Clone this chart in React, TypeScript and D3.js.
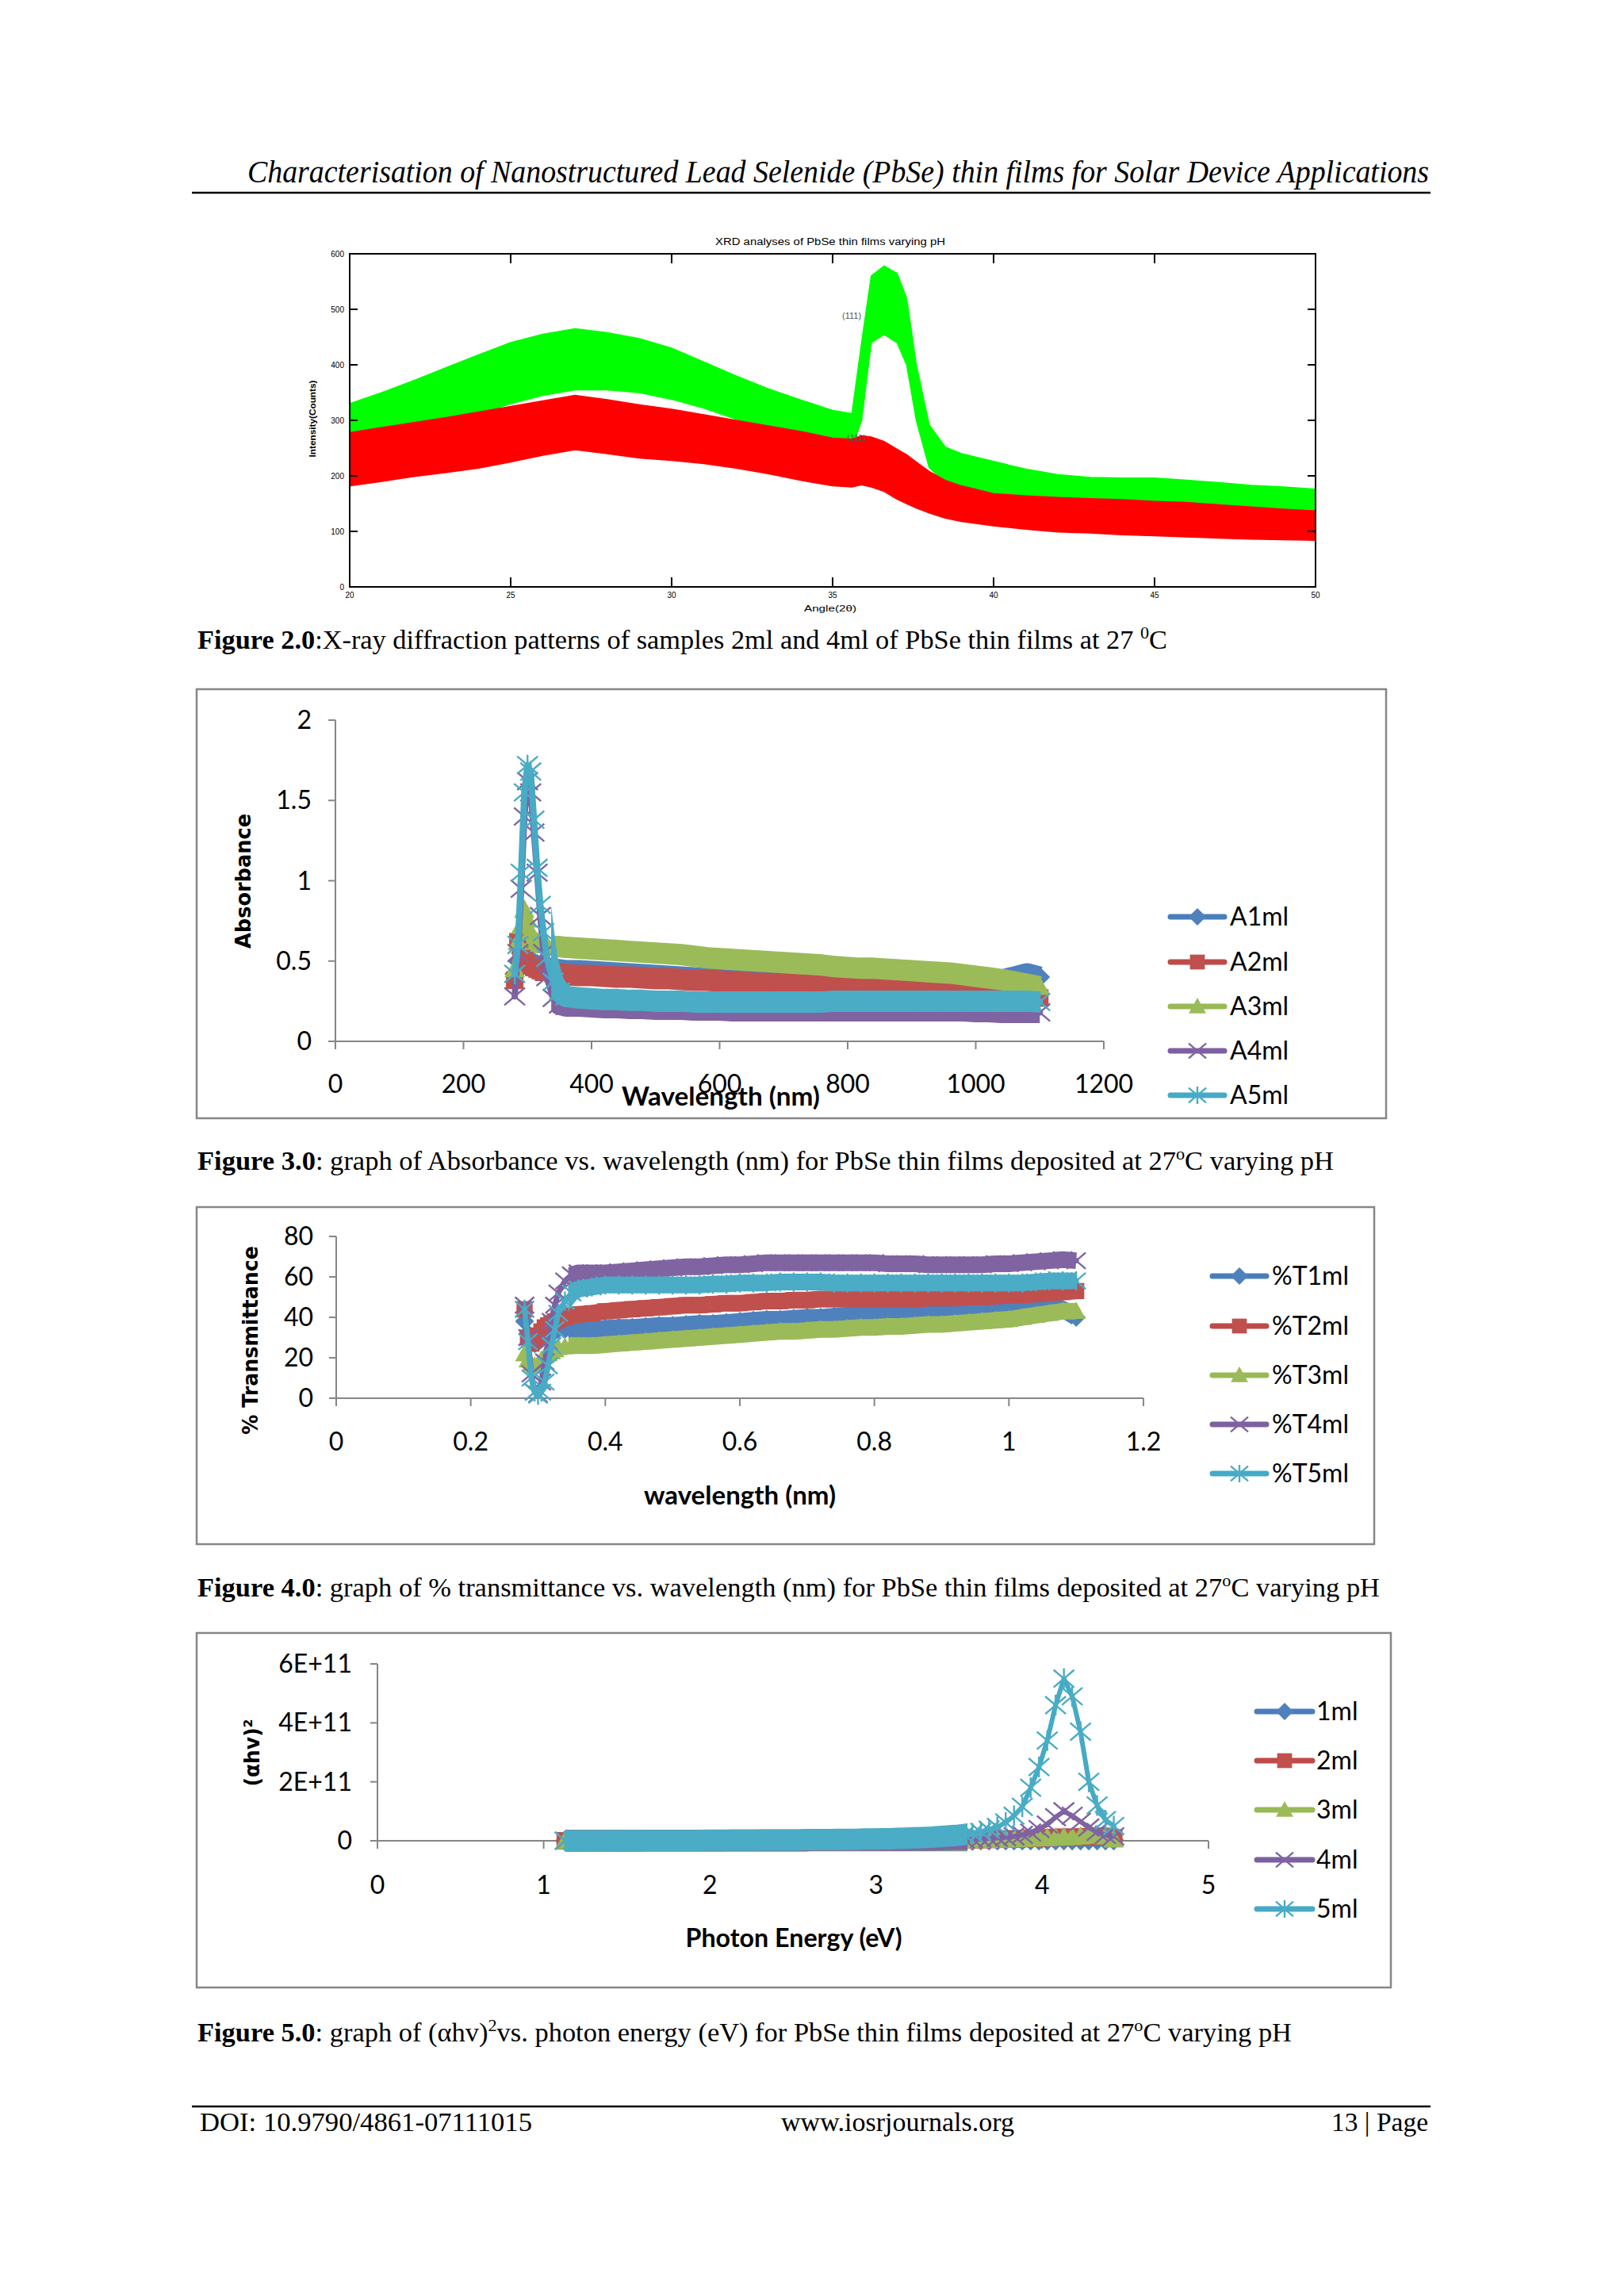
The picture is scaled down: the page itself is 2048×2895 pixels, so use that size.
import * as d3 from "d3";

const PAGE_W = 2048;
const PAGE_H = 2895;

// ---------- Figure 2.0 : XRD (upper / lower edge of the noisy traces) ----------
const xrdAngles = [
  20, 21, 22, 23, 24, 25, 26, 27, 28, 29, 30, 31, 32, 33, 34, 35,
  35.6, 35.9, 36.2, 36.6, 37, 37.3, 37.6, 38, 38.5, 39,
  40, 41, 42, 43, 44, 45, 46, 47, 48, 49, 50,
];
const xrd4mlTop = [
  330, 350, 372, 395, 418, 440, 455, 465, 458, 447, 430, 405, 380, 357, 337, 318,
  312, 440, 560, 578, 565, 520, 400, 292, 252, 240,
  226, 212, 202, 197, 196, 196, 192, 188, 183, 180, 176,
];
const xrd4mlBottom = [
  255, 268, 282, 297, 312, 330, 345, 355, 355, 350, 338, 322, 302, 285, 267, 252,
  250, 300, 440, 455, 440, 400, 300, 215, 188, 176,
  162, 152, 146, 142, 141, 140, 136, 132, 128, 125, 122,
];
const xrd2mlTop = [
  278, 287, 296, 305, 315, 325, 335, 345, 337, 328, 320, 310, 300, 290, 280, 268,
  266, 272, 270, 262, 248, 238, 225, 208, 192, 182,
  168, 164, 161, 159, 157, 154, 152, 148, 144, 140, 137,
];
const xrd2mlBottom = [
  182, 190, 199, 206, 214, 225, 237, 247, 240, 232, 228, 222, 214, 204, 192, 182,
  180, 184, 180, 172, 158, 150, 142, 133, 124, 118,
  110, 104, 99, 97, 94, 92, 90, 88, 86, 85, 84,
];
const xrdYTicks = [0, 100, 200, 300, 400, 500, 600];
const xrdXTicks = [20, 25, 30, 35, 40, 45, 50];

// ---------- Figure 3.0 : absorbance ----------
const wavelengths = [
  280, 285, 290, 295, 300, 305, 310, 315, 320, 325, 330, 340, 350, 360,
  380, 400, 420, 440, 460, 480, 500, 520, 540, 560,
  580, 600, 620, 640, 660, 680, 700, 720, 740, 760,
  780, 800, 820, 840, 860, 880, 900, 920, 940, 960,
  980, 1000, 1020, 1040, 1060, 1080, 1100,
];
const absA1 = [
  0.42, 0.5, 0.55, 0.55, 0.53, 0.51, 0.49, 0.48, 0.47, 0.46, 0.46, 0.45, 0.445, 0.44,
  0.44, 0.435, 0.43, 0.425, 0.42, 0.415, 0.41, 0.405, 0.4, 0.395,
  0.39, 0.385, 0.38, 0.375, 0.37, 0.37, 0.365, 0.365, 0.36, 0.36,
  0.36, 0.36, 0.36, 0.36, 0.36, 0.36, 0.36, 0.36, 0.36, 0.36,
  0.36, 0.36, 0.37, 0.38, 0.4, 0.42, 0.4,
];
const absA2 = [
  0.38, 0.62, 0.55, 0.5, 0.48, 0.47, 0.46, 0.45, 0.44, 0.43, 0.43, 0.42, 0.42, 0.415,
  0.41, 0.41, 0.405, 0.4, 0.4, 0.395, 0.39, 0.39, 0.385, 0.38,
  0.38, 0.375, 0.37, 0.365, 0.36, 0.36, 0.355, 0.355, 0.35, 0.35,
  0.35, 0.345, 0.34, 0.34, 0.335, 0.33, 0.33, 0.325, 0.32, 0.32,
  0.315, 0.315, 0.31, 0.3, 0.29, 0.28, 0.27,
];
const absA3 = [
  0.45, 0.62, 0.72, 0.82, 0.76, 0.68, 0.64, 0.62, 0.61, 0.6, 0.6, 0.59, 0.59, 0.585,
  0.58, 0.575, 0.57, 0.565, 0.56, 0.555, 0.55, 0.545, 0.54, 0.53,
  0.52, 0.515, 0.51, 0.505, 0.5, 0.495, 0.49, 0.485, 0.48, 0.475,
  0.465, 0.46, 0.455, 0.455, 0.45, 0.445, 0.44, 0.435, 0.43, 0.425,
  0.415, 0.405, 0.395, 0.385, 0.37, 0.355, 0.34,
];
const absA4 = [
  0.28, 0.55, 0.95, 1.4, 1.62, 1.55, 1.3, 1.05, 0.78, 0.55, 0.4, 0.27, 0.23, 0.22,
  0.22, 0.215, 0.21, 0.21, 0.205, 0.205, 0.2, 0.2, 0.2, 0.195,
  0.195, 0.195, 0.19, 0.19, 0.19, 0.19, 0.19, 0.19, 0.19, 0.19,
  0.19, 0.19, 0.19, 0.19, 0.19, 0.19, 0.19, 0.19, 0.19, 0.19,
  0.19, 0.185, 0.185, 0.18, 0.18, 0.18, 0.18,
];
const absA5 = [
  0.42, 0.6, 1.05, 1.55, 1.72, 1.68, 1.38, 1.08, 0.85, 0.68, 0.52, 0.37, 0.31, 0.28,
  0.27, 0.265, 0.26, 0.26, 0.255, 0.255, 0.25, 0.25, 0.25, 0.245,
  0.245, 0.245, 0.245, 0.245, 0.245, 0.245, 0.245, 0.245, 0.245, 0.245,
  0.25, 0.25, 0.25, 0.25, 0.25, 0.25, 0.25, 0.25, 0.25, 0.25,
  0.25, 0.25, 0.25, 0.25, 0.25, 0.25, 0.245,
];
const absNames = ["A1ml", "A2ml", "A3ml", "A4ml", "A5ml"];
const absXTicks = [0, 200, 400, 600, 800, 1000, 1200];
const absYTicks = [0, 0.5, 1, 1.5, 2];

// ---------- Figure 4.0 : transmittance ----------
const transWavelengths = [
  0.28, 0.285, 0.29, 0.295, 0.3, 0.305, 0.31, 0.315, 0.32, 0.325, 0.33, 0.34, 0.35, 0.36,
  0.38, 0.4, 0.42, 0.44, 0.46, 0.48, 0.5, 0.52, 0.54, 0.56,
  0.58, 0.6, 0.62, 0.64, 0.66, 0.68, 0.7, 0.72, 0.74, 0.76,
  0.78, 0.8, 0.82, 0.84, 0.86, 0.88, 0.9, 0.92, 0.94, 0.96,
  0.98, 1.0, 1.02, 1.04, 1.06, 1.08, 1.1,
];
const transT1 = [
  38, 32, 28, 27, 28, 30, 31, 32, 33, 33, 34, 34, 34, 34,
  34, 34.5, 35, 35, 35.5, 36, 36, 36.5, 37, 37,
  37.5, 38, 38.5, 39, 39, 39.5, 40, 40, 40.5, 41,
  41, 41.5, 41.5, 42, 42, 42.5, 43, 43, 43.5, 44,
  44.5, 45, 45.5, 46, 46, 44, 40,
];
const transT2 = [
  44, 30, 27, 29, 31, 33, 35, 36, 37, 38, 39, 40, 41, 41.5,
  42, 43, 43.5, 44, 44.5, 45, 45.5, 46, 46, 46.5,
  47, 47, 47.5, 48, 48, 48.5, 48.5, 49, 49, 49,
  49, 49, 49, 49, 49, 49.5, 49.5, 49.5, 50, 50,
  50.5, 51, 51, 51.5, 52, 52.5, 53,
];
const transT3 = [
  22, 19, 17, 16, 17, 19, 21, 22, 23, 24, 25, 25.5, 26, 26,
  26, 26.5, 27, 27.5, 28, 28.5, 29, 29.5, 30, 30.5,
  31, 31.5, 32, 32.5, 33, 33, 33.5, 34, 34, 34.5,
  35, 35, 35.5, 35.5, 36, 36.5, 36.5, 37, 37.5, 38,
  38.5, 39, 40, 41, 42, 43, 43,
];
const transT4 = [
  46, 30, 12, 3, 2, 8, 18, 28, 38, 46, 52, 58, 61, 62,
  62, 62, 62.5, 63, 63.5, 64, 64.5, 65, 65, 65.5,
  66, 66, 66.5, 67, 67, 67, 67, 67, 67, 67,
  67, 67, 66.5, 66.5, 66.5, 66, 66, 66, 66, 66,
  66.5, 66.5, 67, 67.5, 68, 68.5, 68,
];
const transT5 = [
  44, 28, 10, 3, 1.5, 3, 8, 16, 26, 34, 42, 48, 52, 54,
  55, 56, 56, 56, 56, 56, 56, 56, 56, 56.5,
  56.5, 57, 57, 57, 57.5, 57.5, 57.5, 57.5, 57, 57,
  57, 57, 57, 57, 57, 57, 57, 57, 57, 57,
  57, 57, 57, 57.5, 58, 58, 58,
];
const transNames = ["%T1ml", "%T2ml", "%T3ml", "%T4ml", "%T5ml"];
const transXTicks = [0, 0.2, 0.4, 0.6, 0.8, 1, 1.2];
const transYTicks = [0, 20, 40, 60, 80];

// ---------- Figure 5.0 : (αhv)² in units of 1E+11 ----------
const photonEnergies = [
  4.43, 4.38, 4.33, 4.28, 4.23, 4.18, 4.13, 4.08, 4.03, 3.98, 3.93, 3.88, 3.83, 3.78, 3.73, 3.68, 3.63,
  3.58, 3.53, 3.48, 3.43, 3.38, 3.33, 3.28, 3.23, 3.18, 3.13,
  3.08, 3.03, 2.98, 2.93, 2.88, 2.83, 2.78, 2.73, 2.68, 2.63,
  2.58, 2.53, 2.48, 2.43, 2.38, 2.33, 2.28, 2.23, 2.18, 2.13,
  2.08, 2.03, 1.98, 1.93, 1.88, 1.83, 1.78, 1.73, 1.68, 1.63,
  1.58, 1.53, 1.48, 1.43, 1.38, 1.33, 1.28, 1.23, 1.18, 1.13,
];
const tauc1 = [
  0.02, 0.02, 0.02, 0.02, 0.02, 0.02, 0.02, 0.02, 0.02, 0.02, 0.02, 0.02, 0.02, 0.02, 0.02, 0.02, 0.02,
  0.01, 0.01, 0.01, 0.01, 0.01, 0.01, 0.01, 0.01, 0.01, 0.01,
  0.01, 0.01, 0.01, 0.01, 0.01, 0.01, 0.01, 0.01, 0.01, 0.01,
  0, 0, 0, 0, 0, 0, 0, 0, 0, 0,
  0, 0, 0, 0, 0, 0, 0, 0, 0, 0,
  0, 0, 0, 0, 0, 0, 0, 0, 0, 0,
];
const tauc2 = [
  0.1, 0.15, 0.15, 0.14, 0.13, 0.12, 0.12, 0.11, 0.1, 0.09, 0.08, 0.07, 0.06, 0.06, 0.05, 0.05, 0.04,
  0.04, 0.04, 0.04, 0.04, 0.04, 0.04, 0.04, 0.04, 0.04, 0.04,
  0.03, 0.03, 0.03, 0.03, 0.03, 0.03, 0.03, 0.03, 0.03, 0.03,
  0.02, 0.02, 0.02, 0.02, 0.02, 0.02, 0.02, 0.02, 0.02, 0.02,
  0.01, 0.01, 0.01, 0.01, 0.01, 0.01, 0.01, 0.01, 0.01, 0.01,
  0, 0, 0, 0, 0, 0, 0, 0, 0, 0,
];
const tauc3 = [
  0.05, 0.15, 0.2, 0.18, 0.15, 0.13, 0.12, 0.11, 0.1, 0.09, 0.08, 0.07, 0.06, 0.05, 0.05, 0.04, 0.04,
  0.03, 0.03, 0.03, 0.03, 0.03, 0.03, 0.03, 0.03, 0.03, 0.03,
  0.02, 0.02, 0.02, 0.02, 0.02, 0.02, 0.02, 0.02, 0.02, 0.02,
  0.01, 0.01, 0.01, 0.01, 0.01, 0.01, 0.01, 0.01, 0.01, 0.01,
  0.01, 0.01, 0.01, 0.01, 0.01, 0.01, 0.01, 0.01, 0.01, 0.01,
  0, 0, 0, 0, 0, 0, 0, 0, 0, 0,
];
const tauc4 = [
  0.15, 0.2, 0.3, 0.45, 0.65, 0.85, 1.0, 0.8, 0.55, 0.4, 0.28, 0.2, 0.15, 0.12, 0.1, 0.08, 0.07,
  0.06, 0.05, 0.05, 0.04, 0.04, 0.03, 0.03, 0.03, 0.02, 0.02,
  0.02, 0.02, 0.02, 0.02, 0.02, 0.02, 0.02, 0.02, 0.02, 0.02,
  0.01, 0.01, 0.01, 0.01, 0.01, 0.01, 0.01, 0.01, 0.01, 0.01,
  0.01, 0.01, 0.01, 0.01, 0.01, 0.01, 0.01, 0.01, 0.01, 0.01,
  0, 0, 0, 0, 0, 0, 0, 0, 0, 0,
];
const tauc5 = [
  0.5, 0.7, 1.2, 2.0, 3.7, 4.9, 5.5, 4.6, 3.4, 2.5, 1.8, 1.15, 0.85, 0.62, 0.47, 0.38, 0.3,
  0.25, 0.21, 0.18, 0.16, 0.14, 0.12, 0.11, 0.1, 0.09, 0.08,
  0.07, 0.07, 0.06, 0.06, 0.05, 0.05, 0.05, 0.04, 0.04, 0.04,
  0.04, 0.03, 0.03, 0.03, 0.03, 0.03, 0.02, 0.02, 0.02, 0.02,
  0.02, 0.02, 0.02, 0.01, 0.01, 0.01, 0.01, 0.01, 0.01, 0.01,
  0.01, 0.01, 0.01, 0, 0, 0, 0, 0, 0, 0,
];
const taucNames = ["1ml", "2ml", "3ml", "4ml", "5ml"];
const taucXTicks = [0, 1, 2, 3, 4, 5];
const taucYTicks = [0, 2, 4, 6];
const taucYLabels = ["0", "2E+11", "4E+11", "6E+11"];

// excel 2007 default series styling
const lineColors = ["#4A7EBB", "#BE4B48", "#98B954", "#7D60A0", "#46AAC5"];
const markerColors = ["#4F81BD", "#C0504D", "#9BBB59", "#8064A2", "#4BACC6"];
const markerKinds = ["diamond", "square", "triangle", "x", "star"];

const AXIS = "#868686";
const XL_FONT = "Lato, 'Open Sans', sans-serif";
const TITLE_FONT = "'DejaVu Sans', Verdana, sans-serif";
const SERIF = "'Liberation Serif', 'Times New Roman', serif";

function Marker({ kind, x, y, s, color }) {
  const h = s / 2;
  if (kind === "diamond")
    return <path d={`M${x},${y - h}L${x + h},${y}L${x},${y + h}L${x - h},${y}Z`} fill={color} />;
  if (kind === "square")
    return <rect x={x - h * 0.85} y={y - h * 0.85} width={h * 1.7} height={h * 1.7} fill={color} />;
  if (kind === "triangle")
    return <path d={`M${x},${y - h}L${x + h},${y + h * 0.8}L${x - h},${y + h * 0.8}Z`} fill={color} />;
  const a = h;
  const b = h * 0.85;
  let d = `M${x - a},${y - b}L${x + a},${y + b}M${x - a},${y + b}L${x + a},${y - b}`;
  if (kind === "star") d += `M${x},${y - h}L${x},${y + h}`;
  return <path d={d} stroke={color} strokeWidth={2.4} fill="none" />;
}

function ExcelChart(props) {
  const {
    id, frame, plot, xDomain, yDomain, xTicks, yTicks, yLabels, xs, series, names,
    yLabelRight, xLabelY, xTitle, yTitle, legend, lineWidth, markerSize, dense,
  } = props;

  const x = d3.scaleLinear().domain(xDomain).range([plot.left, plot.right]);
  const y = d3.scaleLinear().domain(yDomain).range([plot.bottom, plot.top]);
  const line = d3
    .line<number>()
    .x((_, i) => x(xs[i]))
    .y((d) => y(d))
    .curve(d3.curveLinear);

  // where the measured points sit very close together, excel's markers merge into a solid band
  const clipId = "dense-" + id;
  const cx0 = x(dense.from);
  const cx1 = x(dense.to);

  return (
    <g>
      <defs>
        <clipPath id={clipId}>
          <rect x={Math.min(cx0, cx1)} y={frame.y} width={Math.abs(cx1 - cx0)} height={frame.h} />
        </clipPath>
      </defs>
      <rect x={frame.x} y={frame.y} width={frame.w} height={frame.h} fill="#fff" stroke={AXIS} strokeWidth={2.5} />

      {/* axes */}
      <line x1={plot.left} x2={plot.left} y1={y(yDomain[1])} y2={y(yDomain[0])} stroke={AXIS} strokeWidth={2} />
      <line x1={plot.left} x2={plot.right} y1={y(0)} y2={y(0)} stroke={AXIS} strokeWidth={2} />
      {yTicks.map((t, i) => (
        <g key={"yt" + i}>
          <line x1={plot.left - 9} x2={plot.left} y1={y(t)} y2={y(t)} stroke={AXIS} strokeWidth={2} />
          <text x={yLabelRight} y={y(t) + 11} textAnchor="end" fontFamily={XL_FONT} fontSize={32} fill="#000">
            {yLabels ? yLabels[i] : String(t)}
          </text>
        </g>
      ))}
      {xTicks.map((t, i) => (
        <g key={"xt" + i}>
          <line x1={x(t)} x2={x(t)} y1={y(0)} y2={y(0) + 10} stroke={AXIS} strokeWidth={2} />
          <text x={x(t)} y={xLabelY + 11} textAnchor="middle" fontFamily={XL_FONT} fontSize={32} fill="#000">
            {String(t)}
          </text>
        </g>
      ))}

      {/* series */}
      {series.map((vals, si) => (
        <g key={"s" + si}>
          <path
            d={line(vals)}
            fill="none"
            stroke={lineColors[si]}
            strokeWidth={lineWidth}
            strokeLinejoin="round"
            strokeLinecap="round"
          />
          <path
            d={line(vals)}
            fill="none"
            stroke={markerColors[si]}
            strokeWidth={dense.width}
            strokeLinejoin="round"
            strokeLinecap="butt"
            clipPath={`url(#${clipId})`}
          />
          {vals.map((v, i) => (
            <Marker key={i} kind={markerKinds[si]} x={x(xs[i])} y={y(v)} s={markerSize} color={markerColors[si]} />
          ))}
        </g>
      ))}

      {/* titles */}
      <text
        x={xTitle.x}
        y={xTitle.y}
        textAnchor="middle"
        fontFamily={XL_FONT}
        fontWeight="bold"
        fontSize={32}
        textLength={xTitle.len}
        lengthAdjust="spacingAndGlyphs"
      >
        {xTitle.text}
      </text>
      <text
        transform={`translate(${yTitle.x},${yTitle.y}) rotate(-90)`}
        textAnchor="middle"
        fontFamily={TITLE_FONT}
        fontWeight="bold"
        fontSize={26}
        textLength={yTitle.len}
        lengthAdjust="spacingAndGlyphs"
      >
        {yTitle.text}
      </text>

      {/* legend */}
      {names.map((n, i) => (
        <g key={"lg" + i}>
          <line
            x1={legend.x1}
            x2={legend.x2}
            y1={legend.ys[i]}
            y2={legend.ys[i]}
            stroke={lineColors[i]}
            strokeWidth={7}
            strokeLinecap="round"
          />
          <Marker kind={markerKinds[i]} x={(legend.x1 + legend.x2) / 2} y={legend.ys[i]} s={22} color={markerColors[i]} />
          <text x={legend.textX} y={legend.ys[i] + 11} fontFamily={XL_FONT} fontSize={32} fill="#000">
            {n}
          </text>
        </g>
      ))}
    </g>
  );
}

function XrdChart() {
  const x = d3.scaleLinear().domain([20, 50]).range([441, 1659]);
  const y = d3.scaleLinear().domain([0, 600]).range([740, 320]);
  const band = (top, bottom) =>
    d3
      .area<number>()
      .x((_, i) => x(xrdAngles[i]))
      .y0((_, i) => y(bottom[i]))
      .y1((d) => y(d))(top);
  const f = "'Liberation Sans', Arial, sans-serif";

  return (
    <g>
      <text x={1047} y={309} textAnchor="middle" fontFamily={f} fontSize={12} textLength={290} lengthAdjust="spacingAndGlyphs">
        XRD analyses of PbSe thin films varying pH
      </text>
      <path d={band(xrd4mlTop, xrd4mlBottom)} fill="#00FF00" stroke="#00FF00" strokeWidth={1.5} />
      <path d={band(xrd2mlTop, xrd2mlBottom)} fill="#FF0000" stroke="#FF0000" strokeWidth={1.5} />
      <text x={1062} y={402} fontFamily={f} fontSize={11} fill="#555">(111)</text>
      <text x={1068} y={556} fontFamily={f} fontSize={11} fill="#555">(111)</text>

      <rect x={441} y={320} width={1218} height={420} fill="none" stroke="#000" strokeWidth={2} />
      {xrdXTicks.map((t) => (
        <g key={"xx" + t}>
          <line x1={x(t)} x2={x(t)} y1={740} y2={728} stroke="#000" strokeWidth={2} />
          <line x1={x(t)} x2={x(t)} y1={320} y2={332} stroke="#000" strokeWidth={2} />
          <text x={x(t)} y={754} textAnchor="middle" fontFamily={f} fontSize={10}>{t}</text>
        </g>
      ))}
      {xrdYTicks.map((t) => (
        <g key={"xy" + t}>
          <line x1={441} x2={451} y1={y(t)} y2={y(t)} stroke="#000" strokeWidth={2} />
          <line x1={1659} x2={1649} y1={y(t)} y2={y(t)} stroke="#000" strokeWidth={2} />
          <text x={434} y={y(t) + 4} textAnchor="end" fontFamily={f} fontSize={10}>{t}</text>
        </g>
      ))}
      <text x={1047} y={771} textAnchor="middle" fontFamily={f} fontSize={10} textLength={66} lengthAdjust="spacingAndGlyphs">
        Angle(2θ)
      </text>
      <text
        transform="translate(398,528) rotate(-90)"
        textAnchor="middle"
        fontFamily={f}
        fontSize={10}
        fontWeight="bold"
        textLength={97}
        lengthAdjust="spacingAndGlyphs"
      >
        Intensity(Counts)
      </text>
    </g>
  );
}

function Caption({ y, len, label, children }) {
  return (
    <text x={249} y={y} fontFamily={SERIF} fontSize={34} textLength={len} lengthAdjust="spacingAndGlyphs">
      <tspan fontWeight="bold">{label}</tspan>
      {children}
    </text>
  );
}

export default function App() {
  return (
    <svg
      width={PAGE_W}
      height={PAGE_H}
      viewBox={`0 0 ${PAGE_W} ${PAGE_H}`}
      style={{ position: "absolute", left: 0, top: 0, background: "#fff" }}
    >
      <rect width={PAGE_W} height={PAGE_H} fill="#fff" />

      {/* running header */}
      <text
        x={312}
        y={230}
        fontFamily={SERIF}
        fontStyle="italic"
        fontSize={40}
        textLength={1490}
        lengthAdjust="spacingAndGlyphs"
      >
        Characterisation of Nanostructured Lead Selenide (PbSe) thin films for Solar Device Applications
      </text>
      <line x1={242} x2={1804} y1={243} y2={243} stroke="#000" strokeWidth={2.5} />

      <XrdChart />
      <Caption y={818} len={1223} label="Figure 2.0">
        <tspan>:X-ray diffraction patterns of samples 2ml and 4ml of PbSe thin films at 27 </tspan>
        <tspan dy={-13} fontSize={22}>0</tspan>
        <tspan dy={13}>C</tspan>
      </Caption>

      <ExcelChart
        id="abs"
        frame={{ x: 248, y: 869, w: 1500, h: 541 }}
        plot={{ left: 423, right: 1392, top: 908, bottom: 1313 }}
        xDomain={[0, 1200]}
        yDomain={[0, 2]}
        xTicks={absXTicks}
        yTicks={absYTicks}
        xs={wavelengths}
        series={[absA1, absA2, absA3, absA4, absA5]}
        names={absNames}
        yLabelRight={393}
        xLabelY={1367}
        xTitle={{ text: "Wavelength (nm)", x: 909, y: 1394, len: 250 }}
        yTitle={{ text: "Absorbance", x: 316, y: 1111, len: 170 }}
        legend={{ x1: 1476, x2: 1544, textX: 1551, ys: [1156, 1213, 1269, 1325, 1381] }}
        lineWidth={8}
        markerSize={26}
        dense={{ from: 337, to: 1140, width: 27 }}
      />
      <Caption y={1475} len={1433} label="Figure 3.0">
        <tspan>: graph of Absorbance vs. wavelength (nm) for PbSe thin films deposited at 27</tspan>
        <tspan dy={-13} fontSize={22}>o</tspan>
        <tspan dy={13}>C varying pH</tspan>
      </Caption>

      <ExcelChart
        id="trans"
        frame={{ x: 248, y: 1522, w: 1485, h: 425 }}
        plot={{ left: 424, right: 1442, top: 1559, bottom: 1763 }}
        xDomain={[0, 1.2]}
        yDomain={[0, 80]}
        xTicks={transXTicks}
        yTicks={transYTicks}
        xs={transWavelengths}
        series={[transT1, transT2, transT3, transT4, transT5]}
        names={transNames}
        yLabelRight={395}
        xLabelY={1818}
        xTitle={{ text: "wavelength (nm)", x: 933, y: 1897, len: 242 }}
        yTitle={{ text: "% Transmittance", x: 325, y: 1690, len: 238 }}
        legend={{ x1: 1529, x2: 1597, textX: 1604, ys: [1609, 1672, 1734, 1796, 1858] }}
        lineWidth={7}
        markerSize={24}
        dense={{ from: 0.345, to: 1.14, width: 21 }}
      />
      <Caption y={2013} len={1491} label="Figure 4.0">
        <tspan>: graph of % transmittance vs. wavelength (nm) for PbSe thin films deposited at 27</tspan>
        <tspan dy={-13} fontSize={22}>o</tspan>
        <tspan dy={13}>C varying pH</tspan>
      </Caption>

      <ExcelChart
        id="tauc"
        frame={{ x: 248, y: 2059, w: 1506, h: 447 }}
        plot={{ left: 476, right: 1524, top: 2098, bottom: 2321 }}
        xDomain={[0, 5]}
        yDomain={[0, 6]}
        xTicks={taucXTicks}
        yTicks={taucYTicks}
        yLabels={taucYLabels}
        xs={photonEnergies}
        series={[tauc1, tauc2, tauc3, tauc4, tauc5]}
        names={taucNames}
        yLabelRight={444}
        xLabelY={2377}
        xTitle={{ text: "Photon Energy (eV)", x: 1001, y: 2455, len: 273 }}
        yTitle={{ text: "(αhv)²", x: 327, y: 2210, len: 85 }}
        legend={{ x1: 1585, x2: 1655, textX: 1660, ys: [2158, 2220, 2282, 2345, 2407] }}
        lineWidth={6}
        markerSize={26}
        dense={{ from: 1.08, to: 3.55, width: 27 }}
      />
      <Caption y={2574} len={1380} label="Figure 5.0">
        <tspan>: graph of (αhv)</tspan>
        <tspan dy={-13} fontSize={22}>2</tspan>
        <tspan dy={13}>vs. photon energy (eV) for PbSe thin films deposited at 27</tspan>
        <tspan dy={-13} fontSize={22}>o</tspan>
        <tspan dy={13}>C varying pH</tspan>
      </Caption>

      {/* footer */}
      <line x1={242} x2={1804} y1={2656} y2={2656} stroke="#000" strokeWidth={2.5} />
      <text x={252} y={2687} fontFamily={SERIF} fontSize={34} textLength={419} lengthAdjust="spacingAndGlyphs">
        DOI: 10.9790/4861-07111015
      </text>
      <text x={985} y={2687} fontFamily={SERIF} fontSize={34} textLength={294} lengthAdjust="spacingAndGlyphs">
        www.iosrjournals.org
      </text>
      <text x={1679} y={2687} fontFamily={SERIF} fontSize={34} textLength={122} lengthAdjust="spacingAndGlyphs">
        13 | Page
      </text>
    </svg>
  );
}
